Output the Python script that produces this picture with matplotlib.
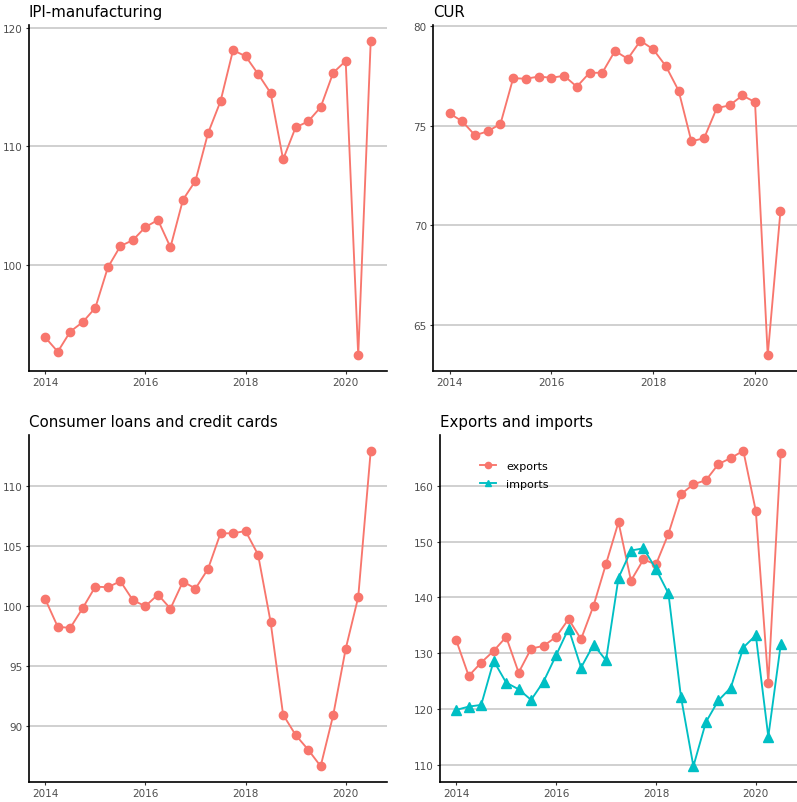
import numpy as np
import matplotlib
matplotlib.use("Agg")
import matplotlib.pyplot as plt

# quarterly dates 2014Q1 .. 2020Q3
quarters = [2014 + i * 0.25 for i in range(27)]

ipi = [93.9, 92.7, 94.4, 95.2, 96.4, 99.8, 101.6, 102.1, 103.2, 103.8, 101.5, 105.5, 107.1,
       111.1, 113.8, 118.1, 117.6, 116.1, 114.5, 108.9, 111.6, 112.1, 113.3, 116.2, 117.2,
       92.4, 118.9]
cur = [75.63, 75.23, 74.53, 74.73, 75.1, 77.4, 77.37, 77.48, 77.42, 77.52, 76.97, 77.67, 77.67,
       78.77, 78.37, 79.28, 78.85, 78.0, 76.77, 74.23, 74.38, 75.9, 76.03, 76.53, 76.2,
       63.48, 70.72]
loans = [100.58, 98.28, 98.2, 99.86, 101.63, 101.58, 102.08, 100.5, 100.0, 100.97, 99.8, 102.05,
         101.47, 103.1, 106.07, 106.07, 106.26, 104.29, 98.7, 90.97, 89.28, 88.06, 86.68, 90.92,
         96.45, 100.75, 112.94]
exports = [132.3, 125.9, 128.3, 130.4, 132.9, 126.5, 130.8, 131.3, 132.9, 136.1, 132.5, 138.5,
           146.0, 153.5, 143.0, 146.8, 145.9, 151.4, 158.5, 160.3, 161.0, 163.9, 165.0, 166.3,
           155.5, 124.7, 165.9]
imports = [119.8, 120.4, 120.7, 128.6, 124.7, 123.5, 121.6, 124.9, 129.6, 134.4, 127.4, 131.5,
           128.7, 143.5, 148.4, 148.8, 145.1, 140.7, 122.2, 109.7, 117.6, 121.5, 123.8, 131.0,
           133.2, 115.0, 131.6]

xticks = [2014, 2016, 2018, 2020]

RED = "#F8766D"
CYAN = "#00BFC4"
W, H = 797, 803

fig = plt.figure(figsize=(W / 100, H / 100), dpi=100)


def panel(l, t, r, b, title, yticks):
    ax = fig.add_axes([l / W, 1 - b / H, (r - l) / W, (b - t) / H])
    ax.set_title(title, loc="left", fontsize=10.8, pad=6.7, color="black")
    for s in ["top", "right"]:
        ax.spines[s].set_visible(False)
    for s in ["left", "bottom"]:
        ax.spines[s].set_linewidth(1.2)
        ax.spines[s].set_color("black")
    ax.grid(axis="y", color="#C4C4C4", linewidth=1.1)
    ax.set_axisbelow(True)
    ax.set_xticks(xticks)
    ax.set_yticks(yticks)
    ax.tick_params(colors="#333333", labelcolor="#4D4D4D", labelsize=7.5, length=2.5, width=0.8, pad=2)
    ax.set_xlim(2014 - 0.325, 2020.5 + 0.325)
    return ax


def ylim_expand(ax, *series):
    lo = min(min(s) for s in series)
    hi = max(max(s) for s in series)
    d = (hi - lo) * 0.05
    ax.set_ylim(lo - d, hi + d)


ax1 = panel(29, 26, 387, 372, "IPI-manufacturing", [100, 110, 120])
ax1.plot(quarters, ipi, color=RED, lw=1.35, marker="o", ms=6)
ylim_expand(ax1, ipi)

ax2 = panel(433, 26, 797, 372, "CUR", [65, 70, 75, 80])
ax2.plot(quarters, cur, color=RED, lw=1.35, marker="o", ms=6)
ylim_expand(ax2, cur)

ax3 = panel(29, 436, 387, 783, "Consumer loans and credit cards", [90, 95, 100, 105, 110])
ax3.plot(quarters, loans, color=RED, lw=1.35, marker="o", ms=6)
ylim_expand(ax3, loans)

ax4 = panel(440, 436, 797, 783, "Exports and imports", [110, 120, 130, 140, 150, 160])
ax4.plot(quarters, exports, color=RED, lw=1.35, marker="o", ms=6, label="exports")
ax4.plot(quarters, imports, color=CYAN, lw=1.35, marker="^", ms=6.5, label="imports")
ylim_expand(ax4, exports, imports)
ax4.legend(loc="upper left", bbox_to_anchor=(0.085, 0.955), frameon=False, fontsize=8,
           handlelength=1.4, handletextpad=0.9, labelspacing=0.75, markerscale=0.75)

fig.savefig("out.png", dpi=100)
